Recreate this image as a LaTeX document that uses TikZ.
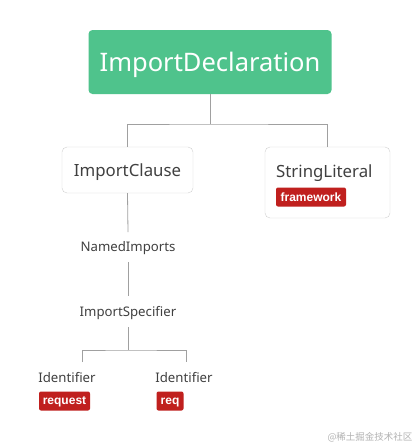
\documentclass[tikz,border=0pt]{standalone}
\usepackage{fontspec}
\setmainfont{Noto Sans}
\newfontfamily\bdg{Liberation Sans}
\newfontfamily\cjk{Noto Sans CJK SC}
\definecolor{boxgreen}{HTML}{4FC38C}
\definecolor{badgered}{HTML}{C0201E}
\definecolor{txtgray}{HTML}{404040}
\definecolor{linegray}{HTML}{A0A0A0}
\definecolor{bordergray}{HTML}{D0D0D0}
\begin{document}
\begin{tikzpicture}[x=1pt,y=-1pt,
  conn/.style={draw=linegray,line width=0.8pt},
  plain/.style={text=txtgray,inner sep=0pt,anchor=base,font=\fontsize{13.2}{15}\selectfont},
  badge/.style={fill=badgered,text=white,rounded corners=2pt,inner sep=0pt,minimum height=19pt,text depth=0pt,font=\bdg\bfseries\fontsize{12}{13}\selectfont},
]
\useasboundingbox (0,0) rectangle (420,445);
\fill[white] (0,0) rectangle (420,445);
% root
\node[fill=boxgreen,rounded corners=4pt,minimum width=243pt,minimum height=64pt,inner sep=0pt,text depth=0pt,text=white,font=\fontsize{25.5}{30}\selectfont] (root) at (210,62) {ImportDeclaration};
% level 1
\node[draw=bordergray,rounded corners=5pt,minimum width=131pt,minimum height=46pt,inner sep=0pt,text depth=0pt,text=txtgray,font=\fontsize{16.8}{20}\selectfont] (clause) at (127.5,170) {ImportClause};
\node[draw=bordergray,rounded corners=5pt,minimum width=125pt,minimum height=71pt,inner sep=0pt] (strlit) at (327.5,182.5) {};
\node[text=txtgray,inner sep=0pt,font=\fontsize{16.8}{20}\selectfont,anchor=base west] (strtxt) at (276,177) {StringLiteral};
\node[badge,minimum width=70pt] (fw) at (311,197) {framework};
% chain
\node[plain] (named) at (128,251.5) {NamedImports};
\node[plain] (spec) at (128,316) {ImportSpecifier};
\node[plain] (id1) at (67,382) {Identifier};
\node[plain] (id2) at (184,382) {Identifier};
\node[badge,minimum width=51pt] (b1) at (64.5,401) {request};
\node[badge,minimum width=27pt] (b2) at (170,401) {req};
% connectors
\coordinate (j0) at (210.5,124);
\draw[conn] (root.south -| j0) -- (j0);
\draw[conn] (clause.north) |- (j0) -| (strlit.north);
\coordinate (n1) at (128,232);
\coordinate (n2) at (128,262);
\coordinate (n3) at (128,296);
\coordinate (n4) at (128,327);
\draw[conn] (clause.south) -- (n1);
\draw[conn] (n2) -- (n3);
\coordinate (j1) at (128,350);
\coordinate (l1) at (82,362);
\coordinate (l2) at (186,362);
\draw[conn] (n4) -- (j1);
\draw[conn] (l1) |- (j1) -| (l2);
% watermark
\node[text=black!30,inner sep=0pt,font=\cjk\fontsize{9.5}{11}\selectfont] (wm) at (370,437) {@稀土掘金技术社区};
\end{tikzpicture}
\end{document}
